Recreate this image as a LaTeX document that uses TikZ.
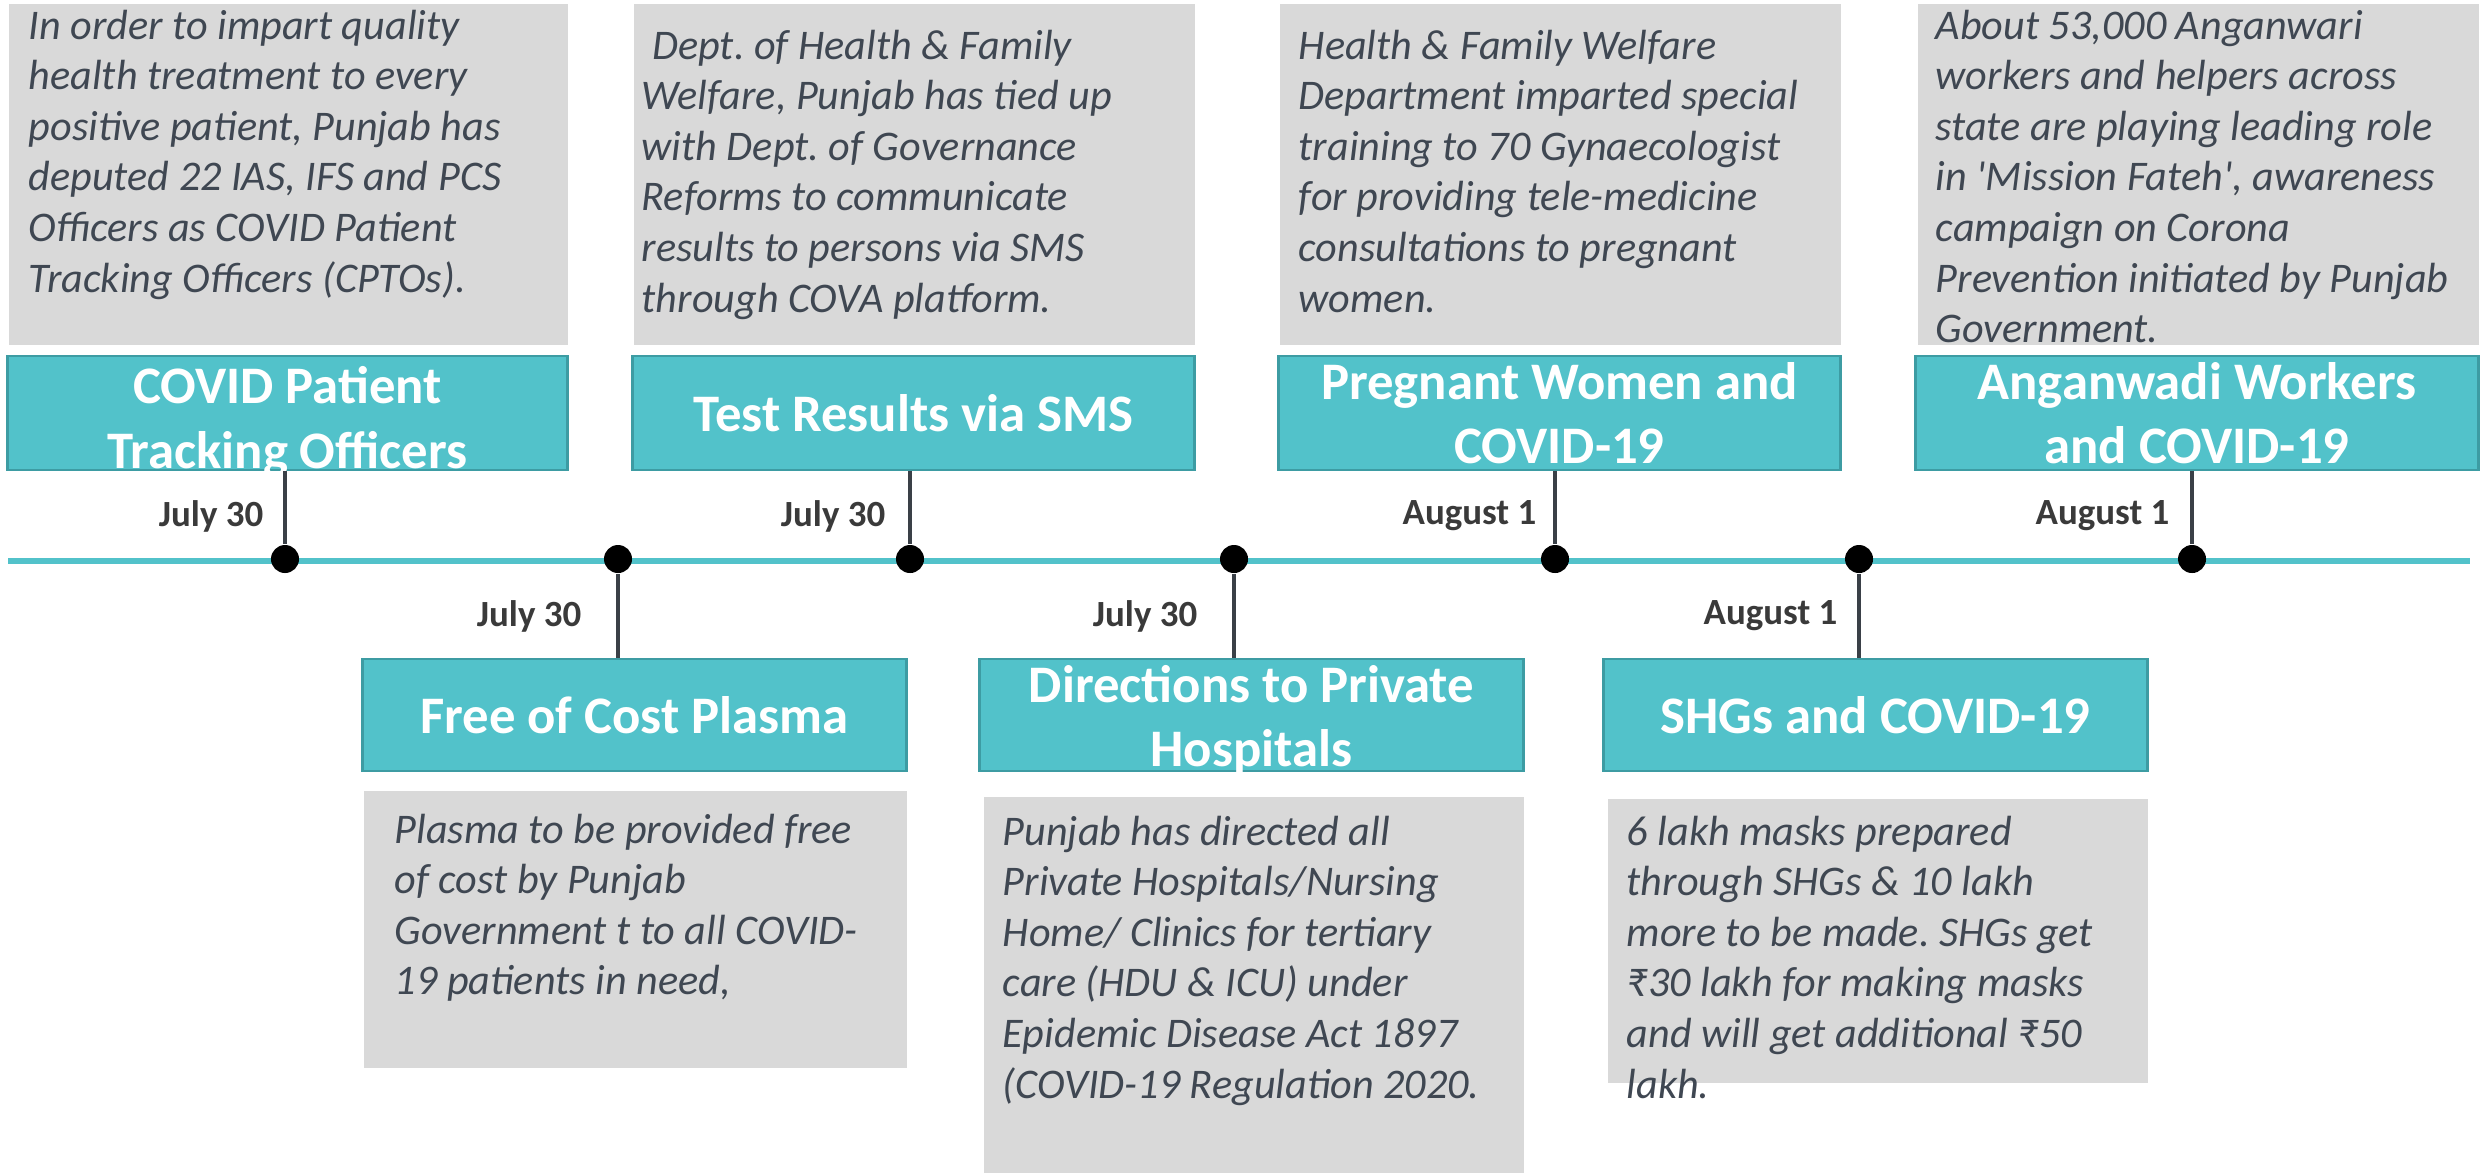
\documentclass[tikz,border=0pt]{standalone}
\usepackage{fontspec}
\setmainfont{Carlito}
\usetikzlibrary{positioning, calc}
\definecolor{tealFill}{HTML}{52C2CA}
\definecolor{tealEdge}{HTML}{3D9CA3}
\definecolor{noteGray}{HTML}{D9D9D9}
\definecolor{noteText}{HTML}{3F4752}
\definecolor{stemGray}{HTML}{3A4047}
\definecolor{dateText}{HTML}{3A3A3A}
\frenchspacing

\begin{document}
\begin{tikzpicture}[x=0.01cm, y=-0.01cm,
    titlebox/.style={draw=tealEdge, line width=0.8pt, fill=tealFill, text=white,
        font=\fontsize{15}{18.3}\selectfont\bfseries, align=center, inner sep=0pt},
    titletext/.style={text=white, font=\fontsize{15}{18.3}\selectfont\bfseries,
        align=center, inner sep=0pt},
    notebox/.style={fill=noteGray, inner sep=0pt, anchor=north west},
    notetext/.style={text=noteText, font=\fontsize{12}{14.4}\selectfont\itshape,
        align=left, anchor=north west, inner sep=0pt},
    datelabel/.style={text=dateText, font=\fontsize{10.5}{12}\selectfont\bfseries,
        anchor=east, inner sep=0pt},
    event/.style={circle, fill=black, minimum size=0.28cm, inner sep=0pt},
    stem/.style={stemGray, line width=1.3pt}]
        \useasboundingbox (0,0) rectangle (2483,1172);

        % Timeline
        \coordinate (lineStart) at (8,561);
        \coordinate (lineEnd) at (2470,561);
        \draw[tealFill, line width=1.8pt] (lineStart) -- (lineEnd);

        % Upper notes
        \node[notebox, minimum width=5.59cm, minimum height=3.41cm] (note1) at (8,3) {};
        \node[notetext] (text1) at (28,9) {In order to impart quality\\health treatment to every\\positive patient, Punjab has\\deputed 22 IAS, IFS and PCS\\Officers as COVID Patient\\Tracking Officers (CPTOs).};
        \node[notebox, minimum width=5.61cm, minimum height=3.41cm] (note2) at (633,3) {};
        \node[notetext] (text2) at (641,29) {\hspace*{0.25em}Dept. of Health \& Family\\Welfare, Punjab has tied up\\with Dept. of Governance\\Reforms to communicate\\results to persons via SMS\\through COVA platform.};
        \node[notebox, minimum width=5.61cm, minimum height=3.41cm] (note3) at (1279,3) {};
        \node[notetext] (text3) at (1298,29) {Health \& Family Welfare\\Department imparted special\\training to 70 Gynaecologist\\for providing tele-medicine\\consultations to pregnant\\women.};
        \node[notebox, minimum width=5.61cm, minimum height=3.41cm] (note4) at (1917,3) {};
        \node[notetext] (text4) at (1935,9) {About 53,000 Anganwari\\workers and helpers across\\state are playing leading role\\in \textquotesingle Mission Fateh\textquotesingle, awareness\\campaign on Corona\\Prevention initiated by Punjab\\Government.};

        % Upper titles
        \node[titlebox, minimum width=5.59cm, minimum height=1.14cm] (head1) at (287.5,413) {};
        \node[titletext] (head1text) at ([yshift=-2.5pt]head1.center) {COVID Patient\\Tracking Officers};
        \node[titlebox, minimum width=5.61cm, minimum height=1.14cm] (head2) at (913.5,413) {Test Results via SMS};
        \node[titlebox, minimum width=5.61cm, minimum height=1.14cm] (head3) at (1559.5,413) {Pregnant Women and\\COVID-19};
        \node[titlebox, minimum width=5.62cm, minimum height=1.14cm] (head4) at (2197,413) {Anganwadi Workers\\and COVID-19};

        % Lower titles
        \node[titlebox, minimum width=5.43cm, minimum height=1.12cm] (head5) at (634.5,715) {Free of Cost Plasma};
        \node[titlebox, minimum width=5.43cm, minimum height=1.12cm] (head6) at (1251.5,715) {};
        \node[titletext] (head6text) at ([yshift=-1.5pt]head6.center) {Directions to Private\\Hospitals};
        \node[titlebox, minimum width=5.43cm, minimum height=1.12cm] (head7) at (1875.5,715) {SHGs and COVID-19};

        % Lower notes
        \node[notebox, minimum width=5.43cm, minimum height=2.77cm] (note5) at (363,790) {};
        \node[notetext] (text5) at (394,813) {Plasma to be provided free\\of cost by Punjab\\Government t to all COVID-\\19 patients in need,};
        \node[notebox, minimum width=5.40cm, minimum height=3.76cm] (note6) at (983,796) {};
        \node[notetext] (text6) at (1002,815) {Punjab has directed all\\Private Hospitals/Nursing\\Home/ Clinics for tertiary\\care (HDU \& ICU) under\\Epidemic Disease Act 1897\\(COVID-19 Regulation 2020.};
        \node[notebox, minimum width=5.40cm, minimum height=2.84cm] (note7) at (1607,798) {};
        \node[notetext] (text7) at (1626,815) {6 lakh masks prepared\\through SHGs \& 10 lakh\\more to be made. SHGs get\\₹30 lakh for making masks\\and will get additional ₹50\\lakh.};

        % Events on the line
        \node[event] (ev1) at (285,559) {};
        \node[event] (ev2) at (618,559) {};
        \node[event] (ev3) at (910,559) {};
        \node[event] (ev4) at (1234,559) {};
        \node[event] (ev5) at (1555,559) {};
        \node[event] (ev6) at (1859,559) {};
        \node[event] (ev7) at (2192,559) {};

        % Stems
        \draw[stem] (head1.south -| ev1) -- (ev1);
        \draw[stem] (head2.south -| ev3) -- (ev3);
        \draw[stem] (head3.south -| ev5) -- (ev5);
        \draw[stem] (head4.south -| ev7) -- (ev7);
        \draw[stem] (ev2) -- (ev2 |- head5.north);
        \draw[stem] (ev4) -- (ev4 |- head6.north);
        \draw[stem] (ev6) -- (ev6 |- head7.north);

        % Dates
        \node[datelabel] (date1) at (264,516) {July 30};
        \node[datelabel] (date2) at (582,616) {July 30};
        \node[datelabel] (date3) at (886,516) {July 30};
        \node[datelabel] (date4) at (1198,616) {July 30};
        \node[datelabel] (date5) at (1537,516) {August 1};
        \node[datelabel] (date6) at (1838,616) {August 1};
        \node[datelabel] (date7) at (2170,516) {August 1};
    \end{tikzpicture}
\end{document}
